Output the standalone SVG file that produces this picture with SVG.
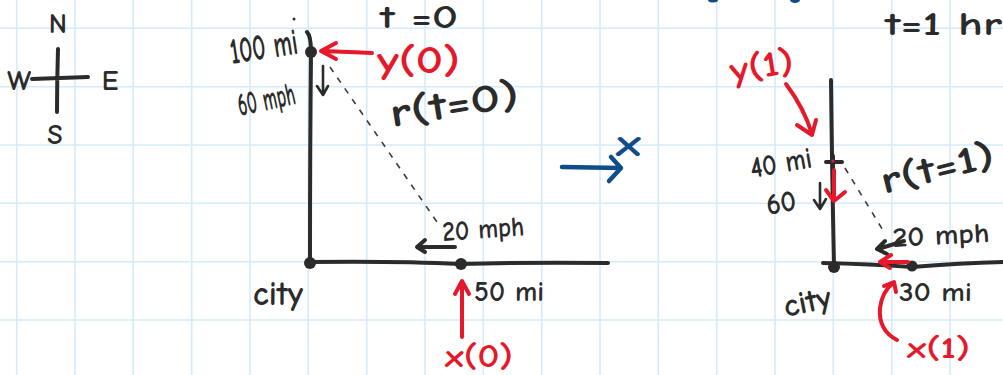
<svg xmlns="http://www.w3.org/2000/svg" width="1003" height="375" viewBox="0 0 1003 375">
<defs>
<style>
.grid{stroke:#d4ebfa;stroke-width:1.6;fill:none}
.ink{stroke:#2b2b2b;stroke-width:4;fill:none;stroke-linecap:round;stroke-linejoin:round}
.thin{stroke:#2b2b2b;stroke-width:2.6;fill:none;stroke-linecap:round;stroke-linejoin:round}
.dash{stroke:#3a3a3a;stroke-width:1.6;fill:none;stroke-dasharray:6 7}
.red{stroke:#e5192b;stroke-width:4;fill:none;stroke-linecap:round;stroke-linejoin:round}
.blue{stroke:#0f4d89;stroke-width:4.5;fill:none;stroke-linecap:round;stroke-linejoin:round}
.dot{fill:#2b2b2b}
text{font-family:"Comic Neue","Liberation Sans",sans-serif;font-weight:bold}
.tk{fill:#2b2b2b}
.tr{fill:#e5192b}
.tb{fill:#0f4d89}
</style>
</defs>
<rect width="1003" height="375" fill="#ffffff"/>
<g id="grid" class="grid">
<path d="M16.7 0V375M75 0V375M133.3 0V375M191.7 0V375M250 0V375M308.3 0V375M366.7 0V375M425 0V375M483.3 0V375M541.7 0V375M600 0V375M658.3 0V375M716.7 0V375M775 0V375M833.3 0V375M891.7 0V375M950 0V375"/>
<path d="M0 28.3H1003M0 86.7H1003M0 145H1003M0 203.3H1003M0 261.7H1003M0 320H1003"/>
</g>
<g id="compass">
<path class="ink" d="M32 79 Q60 78 88 77 M58 49 Q57 80 57 112"/>
<text class="tk" x="58" y="33" font-size="28" text-anchor="middle">N</text>
<text class="tk" x="19" y="90" font-size="28" text-anchor="middle">W</text>
<text class="tk" x="110" y="90" font-size="28" text-anchor="middle">E</text>
<text class="tk" x="55" y="144" font-size="28" text-anchor="middle">S</text>
</g>
<g id="blue-marks">
<ellipse cx="713" cy="0" rx="5" ry="2.5" fill="#0f4d89"/>
<ellipse cx="795" cy="0" rx="5" ry="3" fill="#0f4d89"/>
</g>
<g id="graph-t0">
<path class="ink" d="M307 32 Q311 36 311 52 Q310 150 310 262"/>
<path class="ink" d="M310 262 Q400 261 460 264 Q530 262 608 263"/>
<circle class="dot" cx="311" cy="52" r="6"/>
<circle class="dot" cx="310" cy="263" r="6"/>
<circle class="dot" cx="461" cy="264" r="6"/>
<circle class="dot" cx="294" cy="19" r="1.5"/>
<path class="dash" d="M330 67 L437 222"/>
<path class="thin" d="M323 66 V94 M317 86 L323 95 L328 86"/>
<path class="ink" d="M455 247 H418 M425 240 L417 247 L425 252"/>
<text class="tk" x="380" y="28" font-size="32" textLength="78" lengthAdjust="spacingAndGlyphs">t =0</text>
<text class="tk" x="232" y="64" font-size="37" transform="rotate(-9 232 64)" textLength="68" lengthAdjust="spacingAndGlyphs">100 mi</text>
<text class="tk" x="240" y="116" font-size="33" transform="rotate(-12 240 116)" textLength="58" lengthAdjust="spacingAndGlyphs">60 mph</text>
<text class="tk" x="392" y="127" font-size="40" transform="rotate(-9 392 127)" textLength="130" lengthAdjust="spacingAndGlyphs">r(t=0)</text>
<text class="tk" x="443" y="241" font-size="28" transform="rotate(-4 443 241)" textLength="82" lengthAdjust="spacingAndGlyphs">20 mph</text>
<text class="tk" x="253" y="305" font-size="34" textLength="50" lengthAdjust="spacingAndGlyphs">city</text>
<text class="tk" x="474" y="301" font-size="28" textLength="70" lengthAdjust="spacingAndGlyphs">50 mi</text>
<path class="red" d="M372 53 Q350 52 322 51 M336 43 L321 51 L336 59"/>
<path class="red" d="M462 337 V282 M455 294 L462 281 L469 294"/>
<text class="tr" x="377" y="73" font-size="38" textLength="83" lengthAdjust="spacingAndGlyphs">y(0)</text>
<text class="tr" x="445" y="367" font-size="32" textLength="68" lengthAdjust="spacingAndGlyphs">x(0)</text>
</g>
<g id="transition">
<path class="blue" d="M562 167 L621 168 M611 157 L621 168 L609 181"/>
<text class="tb" x="616" y="156" font-size="38" textLength="25" lengthAdjust="spacingAndGlyphs">x</text>
</g>
<g id="graph-t1">
<path class="ink" d="M831 80 Q832 170 834 266"/>
<path class="ink" d="M823 263 Q870 264 912 267 Q960 263 1003 262"/>
<circle class="dot" cx="834" cy="267" r="6"/>
<circle class="dot" cx="912" cy="266" r="5.5"/>
<path class="ink" d="M826 162 H842 M833 156 V168"/>
<path class="dash" d="M845 168 L884 232"/>
<path class="thin" d="M820 183 V209 M814 200 L820 209 L826 199"/>
<path class="ink" d="M904 241 L878 249 M885 241 L877 249 L887 254"/>
<path class="red" d="M834 170 V200 M826 190 L834 201 L845 192"/>
<path class="red" d="M908 262 L881 262 M891 255 L880 262 L890 268"/>
<circle cx="833" cy="161" r="1.6" fill="#e5192b"/>
<text class="tk" x="885" y="35" font-size="32" textLength="117" lengthAdjust="spacingAndGlyphs">t=1 hr</text>
<text class="tk" x="752" y="178" font-size="30" transform="rotate(-10 752 178)" textLength="62" lengthAdjust="spacingAndGlyphs">40 mi</text>
<text class="tk" x="768" y="215" font-size="30" transform="rotate(-10 768 215)" textLength="30" lengthAdjust="spacingAndGlyphs">60</text>
<text class="tk" x="884" y="194" font-size="38" transform="rotate(-14 884 194)" textLength="116" lengthAdjust="spacingAndGlyphs">r(t=1)</text>
<text class="tk" x="893" y="247" font-size="28" transform="rotate(-3 893 247)" textLength="97" lengthAdjust="spacingAndGlyphs">20 mph</text>
<text class="tk" x="786" y="317" font-size="32" transform="rotate(-12 786 317)" textLength="48" lengthAdjust="spacingAndGlyphs">city</text>
<text class="tk" x="899" y="301" font-size="27" textLength="73" lengthAdjust="spacingAndGlyphs">30 mi</text>
<text class="tr" x="732" y="83" font-size="36" transform="rotate(-10 732 83)" textLength="64" lengthAdjust="spacingAndGlyphs">y(1)</text>
<path class="red" d="M786 84 Q804 108 812 134 M797 125 L812 135 L816 120"/>
<path class="red" d="M897 340 Q878 330 880 308 Q882 292 893 283 M884 286 L894 282 L896 292"/>
<text class="tr" x="907" y="358" font-size="31" textLength="63" lengthAdjust="spacingAndGlyphs">x(1)</text>
</g>
</svg>
